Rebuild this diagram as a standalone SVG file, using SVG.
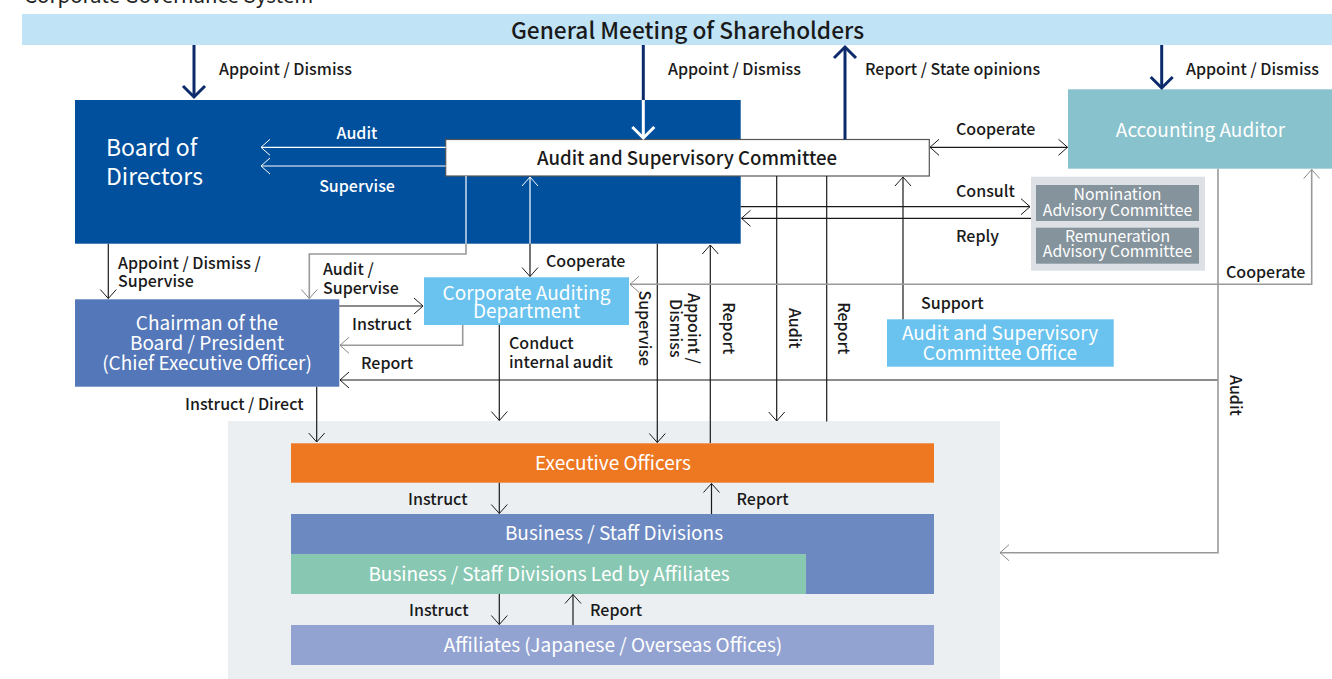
<svg xmlns="http://www.w3.org/2000/svg" width="1332" height="679" viewBox="0 0 1332 679">
<defs>
<style>
text{font-family:"Noto Sans CJK JP","Noto Sans",sans-serif;}
.lb{font-size:16px;font-weight:500;fill:#1a1a1a;}
.wl{font-size:16px;font-weight:500;fill:#ffffff;}
.bx{font-size:19px;fill:#ffffff;text-anchor:middle;}
.bt{font-size:19px;fill:#ffffff;text-anchor:middle;}
.sm{font-size:15.8px;fill:#ffffff;text-anchor:middle;}
.k{fill:none;stroke:#1a1a1a;stroke-width:1.2;}
.g{fill:none;stroke:#999999;stroke-width:1.6;}
.w{fill:none;stroke:#ffffff;stroke-width:1.2;}
.n{fill:none;stroke:#0d2b6b;stroke-width:3;}
.nw{fill:none;stroke:#ffffff;stroke-width:3;}
</style>
<marker id="mk" markerUnits="userSpaceOnUse" markerWidth="12" markerHeight="18" viewBox="0 0 12 18" refX="10" refY="9" orient="auto-start-reverse"><path d="M1,1 L10,9 L1,17" fill="none" stroke="#1a1a1a" stroke-width="1"/></marker>
<marker id="mg" markerUnits="userSpaceOnUse" markerWidth="12" markerHeight="18" viewBox="0 0 12 18" refX="10" refY="9" orient="auto-start-reverse"><path d="M1,1 L10,9 L1,17" fill="none" stroke="#888888" stroke-width="1"/></marker>
<marker id="mw" markerUnits="userSpaceOnUse" markerWidth="12" markerHeight="18" viewBox="0 0 12 18" refX="10" refY="9" orient="auto-start-reverse"><path d="M1,1 L10,9 L1,17" fill="none" stroke="#ffffff" stroke-width="1"/></marker>
<marker id="mn" markerUnits="userSpaceOnUse" markerWidth="16" markerHeight="26" viewBox="0 0 16 26" refX="13" refY="13" orient="auto"><path d="M2,2 L13,13 L2,24" fill="none" stroke="#0d2b6b" stroke-width="3"/></marker>
<marker id="mnw" markerUnits="userSpaceOnUse" markerWidth="16" markerHeight="26" viewBox="0 0 16 26" refX="13" refY="13" orient="auto"><path d="M2,2 L13,13 L2,24" fill="none" stroke="#ffffff" stroke-width="3"/></marker>
</defs>
<rect width="1332" height="679" fill="#ffffff"/>
<text x="24" y="2.5" style="font-size:20.5px;fill:#222222;">Corporate Governance System</text>

<rect x="228" y="421" width="772" height="258" fill="#ebeff2"/>

<g id="gms"><rect x="22" y="14" width="1310" height="31" fill="#c1e3f6"/><text x="687.5" y="39" style="font-size:22.7px;font-weight:500;fill:#1a1a1a;text-anchor:middle;">General Meeting of Shareholders</text></g>

<g id="board"><rect x="75" y="100" width="665.7" height="143.7" fill="#00509d"/><text x="106" y="156" style="font-size:23px;fill:#ffffff;">Board of</text><text x="106" y="184.5" style="font-size:23px;fill:#ffffff;">Directors</text></g>

<g id="asc"><rect x="445.7" y="139.5" width="483.6" height="36.5" fill="#ffffff" stroke="#555555" stroke-width="1.2"/><text x="687" y="165" style="font-size:18.6px;font-weight:500;fill:#1a1a1a;text-anchor:middle;">Audit and Supervisory Committee</text></g>

<g id="auditor"><rect x="1068" y="89.3" width="264" height="79.4" fill="#88c2cc"/><text class="bx" x="1200.5" y="137">Accounting Auditor</text></g>

<g id="advisory"><rect x="1031" y="176.7" width="174" height="94" fill="#dde1e5"/>
<rect x="1036" y="185" width="163" height="36" fill="#85939c"/><text class="sm" x="1117.5" y="200">Nomination</text><text class="sm" x="1117.5" y="215.7">Advisory Committee</text>
<rect x="1036" y="227.7" width="163" height="36" fill="#85939c"/><text class="sm" x="1117.5" y="241.7">Remuneration</text><text class="sm" x="1117.5" y="257.3">Advisory Committee</text></g>

<g id="chairman"><rect x="75" y="299.3" width="264.3" height="87.4" fill="#5377b9"/><text class="bx" x="207" y="330">Chairman of the</text><text class="bx" x="207" y="350">Board / President</text><text class="bx" x="207" y="370">(Chief Executive Officer)</text></g>

<g id="cad"><rect x="424" y="277.3" width="205" height="47.7" fill="#69c3ee"/><text class="bx" x="526.5" y="300">Corporate Auditing</text><text class="bx" x="526.5" y="318">Department</text></g>

<g id="office"><rect x="887" y="319.3" width="226.7" height="47.4" fill="#69c3ee"/><text class="bx" x="1000" y="340">Audit and Supervisory</text><text class="bx" x="1000" y="359.5">Committee Office</text></g>

<g id="exec"><rect x="291" y="443.3" width="643" height="39.4" fill="#ee7821"/><text class="bt" x="613" y="469.5">Executive Officers</text></g>
<g id="biz"><rect x="291" y="514" width="643" height="80" fill="#6c89c2"/><text class="bt" x="614" y="539.5">Business / Staff Divisions</text></g>
<g id="bizaff"><rect x="291" y="554" width="515" height="40" fill="#88c8b3"/><text class="bt" x="549" y="580.5">Business / Staff Divisions Led by Affiliates</text></g>
<g id="aff"><rect x="291" y="625" width="643" height="40" fill="#93a3d1"/><text class="bt" x="613" y="651.5">Affiliates (Japanese / Overseas Offices)</text></g>

<g id="connectors">
<path class="n" d="M194,45 V97" marker-end="url(#mn)"/>
<path class="n" d="M643.3,45 V100"/>
<path class="nw" d="M643.3,100 V138" marker-end="url(#mnw)"/>
<path class="n" d="M845,139.5 V47" marker-end="url(#mn)"/>
<path class="n" d="M1161.7,45 V88" marker-end="url(#mn)"/>
<path class="w" d="M445.7,147.3 H261" marker-end="url(#mw)"/>
<path class="w" d="M445.7,166 H261" marker-end="url(#mw)"/>
<path class="w" d="M530,243.7 V177" marker-end="url(#mw)"/>
<path class="k" d="M530,243.7 V276.5" marker-end="url(#mk)"/>
<path class="w" d="M466,176 V243.7"/>
<path class="g" d="M466,243.7 V254 H309.3 V298.5" marker-end="url(#mg)"/>
<path class="k" d="M108.3,243.7 V298.5" marker-end="url(#mk)"/>
<path class="k" d="M339.3,306 H423" marker-end="url(#mk)"/>
<path class="g" d="M462.7,325 V345.3 H340" marker-end="url(#mg)"/>
<path class="k" d="M1218,380 H340" marker-end="url(#mk)"/>
<path class="k" d="M316.7,386.7 V442" marker-end="url(#mk)"/>
<path class="k" d="M499.3,325 V420.5" marker-end="url(#mk)"/>
<path class="k" d="M657.3,243.7 V442.5" marker-end="url(#mk)"/>
<path class="k" d="M710.3,443 V245" marker-end="url(#mk)"/>
<path class="k" d="M776.7,176 V421" marker-end="url(#mk)"/>
<path class="k" d="M826.7,176 V421.5"/>
<path class="k" d="M903,319.3 V177" marker-end="url(#mk)"/>
<path class="k" d="M740.7,206.7 H1030" marker-end="url(#mk)"/>
<path class="k" d="M1031,218.3 H741.5" marker-end="url(#mk)"/>
<path class="k" d="M930,147.3 H1067.5" marker-start="url(#mk)" marker-end="url(#mk)"/>
<path class="g" d="M630,284.3 H1311.7 V169.5" marker-start="url(#mg)" marker-end="url(#mg)"/>
<path class="g" d="M1218,168.7 V552.7 H1000" marker-end="url(#mg)"/>
<path class="k" d="M499.3,482.7 V513.5" marker-end="url(#mk)"/>
<path class="k" d="M711.5,514 V483.5" marker-end="url(#mk)"/>
<path class="k" d="M499.3,594 V624.5" marker-end="url(#mk)"/>
<path class="k" d="M573,625 V594.5" marker-end="url(#mk)"/>
</g>

<g id="labels">
<text class="lb" x="219" y="75">Appoint / Dismiss</text>
<text class="lb" x="668" y="75">Appoint / Dismiss</text>
<text class="lb" x="865" y="75">Report / State opinions</text>
<text class="lb" x="1186" y="75">Appoint / Dismiss</text>
<text class="wl" x="357" y="139" text-anchor="middle">Audit</text>
<text class="wl" x="357" y="192" text-anchor="middle">Supervise</text>
<text class="lb" x="956" y="135">Cooperate</text>
<text class="lb" x="956" y="197">Consult</text>
<text class="lb" x="956" y="242">Reply</text>
<text class="lb" x="1226" y="277.5">Cooperate</text>
<text class="lb" x="921" y="309">Support</text>
<text class="lb" x="118" y="268.5">Appoint / Dismiss /</text>
<text class="lb" x="118" y="287">Supervise</text>
<text class="lb" x="323" y="275">Audit /</text>
<text class="lb" x="323" y="293.5">Supervise</text>
<text class="lb" x="546" y="267">Cooperate</text>
<text class="lb" x="352" y="330">Instruct</text>
<text class="lb" x="361" y="369">Report</text>
<text class="lb" x="509" y="349">Conduct</text>
<text class="lb" x="509" y="367.5">internal audit</text>
<text class="lb" x="185" y="410">Instruct / Direct</text>
<text class="lb" x="408" y="505">Instruct</text>
<text class="lb" x="736.5" y="505">Report</text>
<text class="lb" x="409" y="616">Instruct</text>
<text class="lb" x="590" y="616">Report</text>
<text class="lb" text-anchor="middle" transform="translate(638.8,328.3) rotate(90)">Supervise</text>
<text class="lb" text-anchor="middle" transform="translate(688.3,328.3) rotate(90)">Appoint /</text>
<text class="lb" text-anchor="middle" transform="translate(669.5,328.3) rotate(90)">Dismiss</text>
<text class="lb" text-anchor="middle" transform="translate(722.8,328.3) rotate(90)">Report</text>
<text class="lb" text-anchor="middle" transform="translate(788.8,328.3) rotate(90)">Audit</text>
<text class="lb" text-anchor="middle" transform="translate(837.8,328.3) rotate(90)">Report</text>
<text class="lb" text-anchor="middle" transform="translate(1230,395.5) rotate(90)">Audit</text>
</g>
</svg>
